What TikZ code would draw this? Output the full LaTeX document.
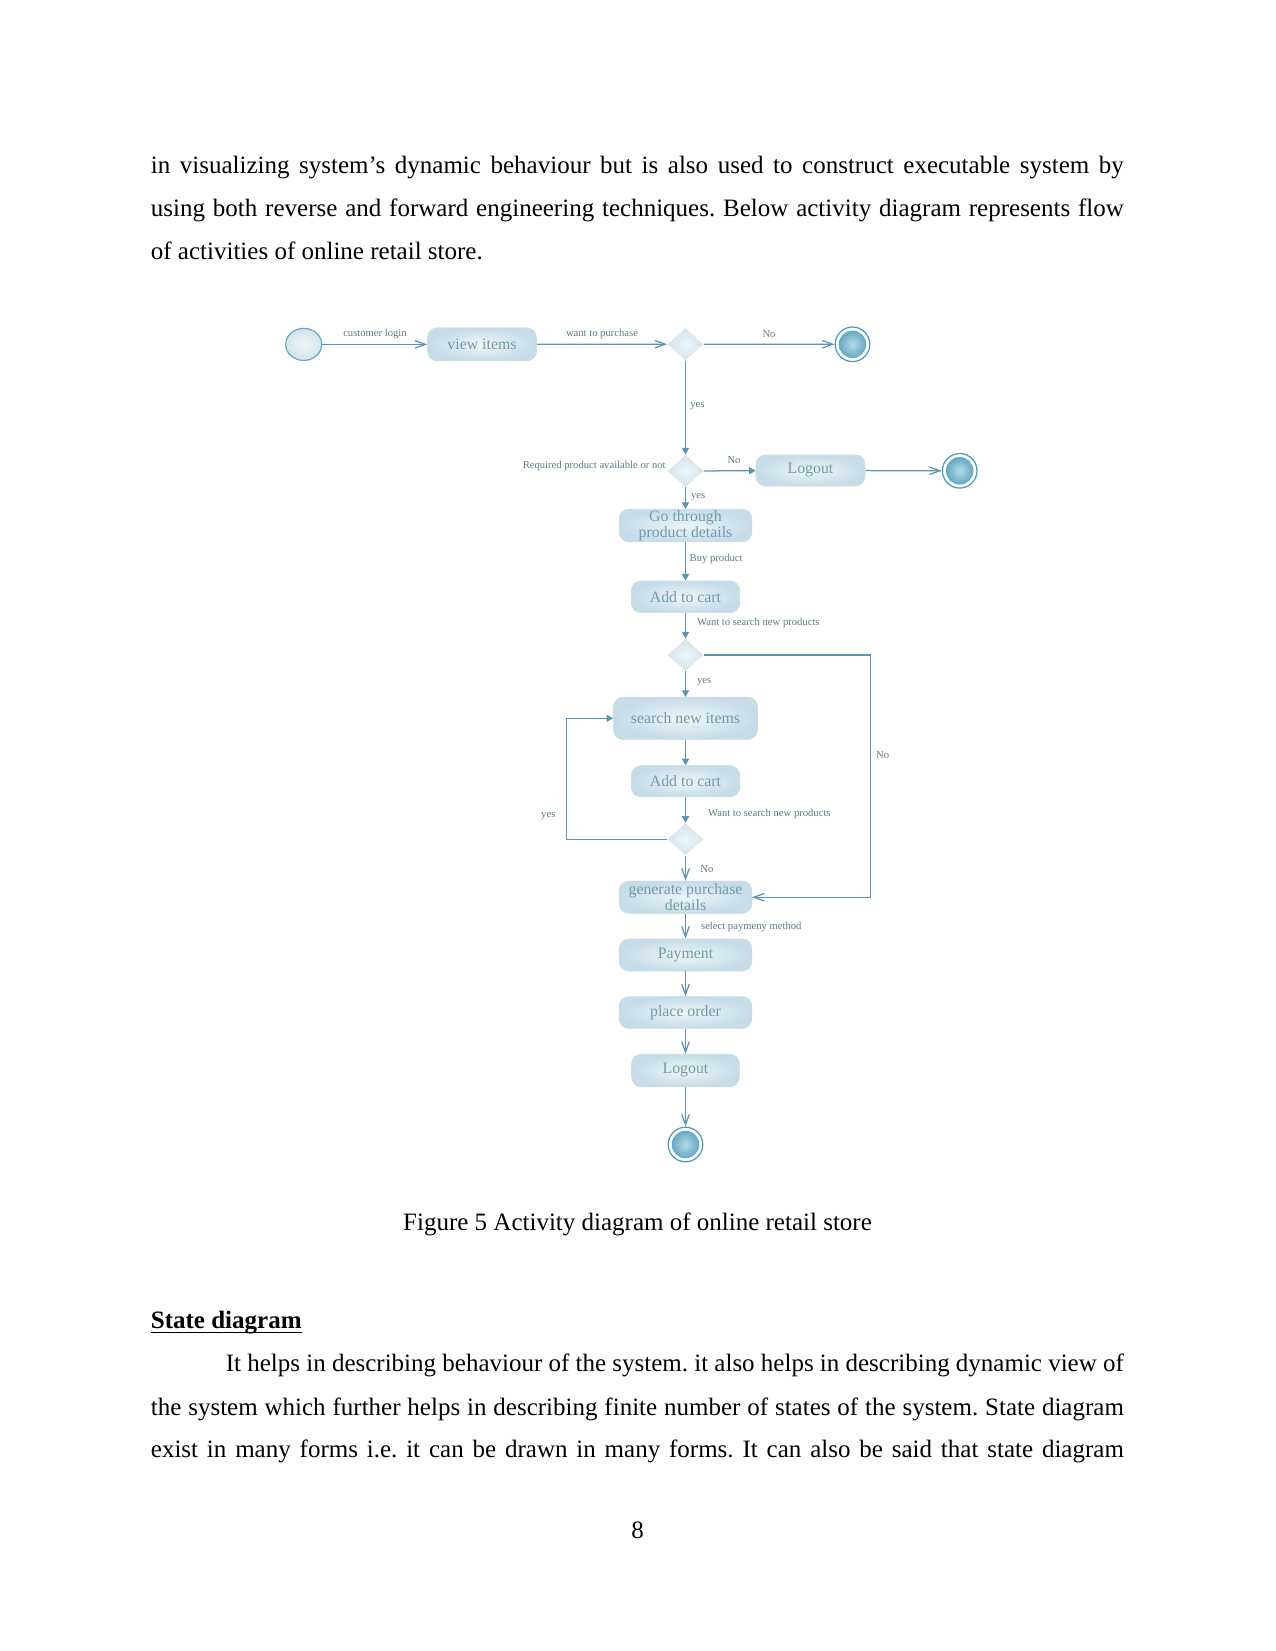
\documentclass[tikz,border=0pt]{standalone}
\usepackage{fontspec}
\setmainfont{Liberation Serif}
\usetikzlibrary{arrows.meta,shapes.geometric}
\definecolor{lineC}{HTML}{5B95B2}
\definecolor{boxTxt}{HTML}{6E9CAB}
\definecolor{lblTxt}{HTML}{5F7C86}
\definecolor{boxOut}{HTML}{C6DCE6}
\definecolor{boxIn}{HTML}{EEF5F8}
\definecolor{diaC}{HTML}{D5E5EC}
\definecolor{finOut}{HTML}{4E9BBC}
\definecolor{finIn}{HTML}{B4DAE8}
\definecolor{startC}{HTML}{6AAEC4}
\newcommand{\myul}[1]{\setbox0\hbox{#1}\rlap{\copy0}\raisebox{-2.3pt}{\rule{\wd0}{0.6pt}}}
\begin{document}
\frenchspacing
\begin{tikzpicture}[x=0.48pt,y=-0.48pt,
  act/.style={rounded corners=4.6pt, inner color=boxIn, outer color=boxOut, draw=boxOut, line width=0.3pt,
    text=boxTxt, font=\fontsize{7.6}{7.6}\selectfont, align=center, inner sep=0pt},
  dec/.style={diamond, inner color=boxIn, outer color=diaC!90!boxOut, minimum width=17.3pt, minimum height=15.4pt, inner sep=0pt},
  startnode/.style={ellipse, draw=startC, line width=0.6pt, inner color=boxIn, outer color=boxOut!80!startC!60,
    minimum width=17.3pt, minimum height=15.4pt, inner sep=0pt},
  finalnode/.style={circle, draw=finOut, line width=0.6pt, minimum size=16.6pt, inner sep=0pt,
    path picture={\shade[inner color=finIn, outer color=finOut] (path picture bounding box.center) circle (6.6pt);}},
  lbl/.style={text=lblTxt, font=\fontsize{5.1}{5.3}\selectfont, inner sep=0pt},
  conn/.style={draw=lineC, line width=0.6pt},
  openarr/.style={conn, -{Straight Barb[length=5pt,width=3.6pt,line width=0.6pt]}},
  fillarr/.style={conn, -{Triangle[length=3.2pt,width=3.4pt]}},
  body/.style={anchor=base west, inner sep=0pt, font=\fontsize{12}{14}\selectfont},
]
\useasboundingbox[fill=white] (0,0) rectangle (1275,1651);

% ---- body text ----
\node[body] (t1) at (150.5,173.3) {\hbox to 467pt{in visualizing system’s dynamic behaviour but is also used to construct executable system by}};
\node[body] (t2) at (150.5,216.7) {\hbox to 467pt{using both reverse and forward engineering techniques. Below activity diagram represents flow}};
\node[body] (t3) at (150.5,260) {of activities of online retail store.};
\node[anchor=base, inner sep=0pt, font=\fontsize{12}{14}\selectfont] (cap) at (637.5,1230) {Figure 5 Activity diagram of online retail store};
\node[body] (sd) at (150.5,1328) {\myul{\textbf{State diagram}}};
\node[body] (b1) at (150.5,1371.7) {\hbox to 467pt{\kern36pt It helps in describing behaviour of the system. it also helps in describing dynamic view of}};
\node[body] (b2) at (150.5,1415) {\hbox to 467pt{the system which further helps in describing finite number of states of the system. State diagram}};
\node[body] (b3) at (150.5,1457) {\hbox to 467pt{exist in many forms i.e. it can be drawn in many forms. It can also be said that state diagram}};
\node[anchor=base, inner sep=0pt, font=\fontsize{12}{14}\selectfont] (pg) at (637.5,1538) {8};

% ---- diagram nodes ----
\node[startnode] (start) at (303.7,344.4) {};
\node[act, minimum width=52.3pt, minimum height=15.8pt] (view) at (482,344.4) {view items};
\node[dec] (d1) at (685.5,344.2) {};
\node[finalnode] (f1) at (852.5,344.3) {};
\node[dec] (d2) at (685.5,471) {};
\node[act, minimum width=52.3pt, minimum height=14.9pt] (logout1) at (810.5,470.5) {Logout};
\node[finalnode] (f2) at (959.7,470.8) {};
\node[act, minimum width=63.7pt, minimum height=15.6pt] (go) at (685.5,525.5) {Go through\\product details};
\node[act, minimum width=52pt, minimum height=15.2pt] (add1) at (685.5,596.8) {Add to cart};
\node[dec] (d3) at (685.5,655) {};
\node[act, minimum width=69.1pt, minimum height=20.2pt] (search) at (685.5,718.3) {search new items};
\node[act, minimum width=52pt, minimum height=14.9pt] (add2) at (685.5,781.2) {Add to cart};
\node[dec] (d4) at (685.5,839.2) {};
\node[act, minimum width=63.6pt, minimum height=15.5pt] (gen) at (685.5,897.2) {generate purchase\\details};
\node[act, minimum width=63.6pt, minimum height=15.4pt] (pay) at (685.5,955) {Payment};
\node[act, minimum width=63.6pt, minimum height=15.2pt] (place) at (685.5,1012.5) {place order};
\node[act, minimum width=51.7pt, minimum height=15.6pt] (logout2) at (685.5,1070.5) {Logout};
\node[finalnode] (f3) at (685.5,1144.5) {};

\coordinate (lc) at (566.7,839.2);
\coordinate (rc) at (870.7,655);

% ---- connectors ----
\draw[openarr] (start) -- (view);
\draw[openarr] (view) -- (d1);
\draw[openarr] (d1) -- (f1);
\draw[fillarr] (d1) -- (d2);
\draw[fillarr] (d2) -- (logout1);
\draw[openarr] (logout1) -- (f2);
\draw[fillarr] (d2) -- (go);
\draw[fillarr] (go) -- (add1);
\draw[fillarr] (add1) -- (d3);
\draw[fillarr] (d3) -- (search);
\draw[fillarr] (search) -- (add2);
\draw[fillarr] (add2) -- (d4);
\draw[fillarr] (d4.west) -- (lc) |- (search.west);
\draw[openarr] (d3.east) -- (rc) |- (gen.east);
\draw[openarr] (d4) -- (gen);
\draw[openarr] (gen) -- (pay);
\draw[openarr] (pay) -- (place);
\draw[openarr] (place) -- (logout2);
\draw[openarr] (logout2) -- (f3);

% ---- labels ----
\node[lbl] (l1) at (375,334) {customer login};
\node[lbl] (l2) at (602,334) {want to purchase};
\node[lbl] (l3) at (769,334) {No};
\node[lbl, anchor=west] (l4) at (690,406) {yes};
\node[lbl, anchor=east] (l5) at (666,466) {Required product available or not};
\node[lbl] (l6) at (734,460) {No};
\node[lbl, anchor=west] (l7) at (690.7,497.3) {yes};
\node[lbl, anchor=west] (l8) at (689.3,559.3) {Buy product};
\node[lbl, anchor=west] (l9) at (696.7,623.3) {Want to search new products};
\node[lbl, anchor=west] (l10) at (696.7,681.7) {yes};
\node[lbl] (l11) at (882.7,755) {No};
\node[lbl, anchor=west] (l12) at (707.7,814) {Want to search new products};
\node[lbl] (l13) at (548.3,815.7) {yes};
\node[lbl, anchor=west] (l14) at (700,869) {No};
\node[lbl, anchor=west] (l15) at (700.7,926.7) {select paymeny method};
\end{tikzpicture}
\end{document}
